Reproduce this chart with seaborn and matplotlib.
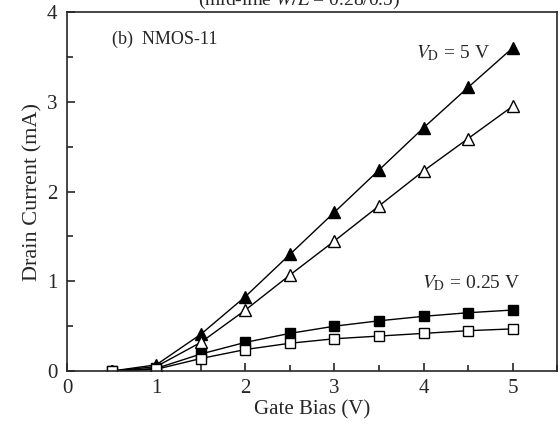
import matplotlib
matplotlib.use("Agg")
import matplotlib.pyplot as plt
import seaborn as sns
import pandas as pd
from matplotlib.ticker import MultipleLocator

gate_bias = [0.5, 1.0, 1.5, 2.0, 2.5, 3.0, 3.5, 4.0, 4.5, 5.0]
vd5_filled = [0.0, 0.07, 0.41, 0.83, 1.30, 1.77, 2.24, 2.71, 3.16, 3.60]
vd5_open = [0.0, 0.05, 0.32, 0.68, 1.07, 1.45, 1.84, 2.23, 2.59, 2.95]
vd025_filled = [0.0, 0.03, 0.19, 0.32, 0.42, 0.50, 0.56, 0.61, 0.65, 0.68]
vd025_open = [0.0, 0.02, 0.14, 0.24, 0.31, 0.36, 0.39, 0.42, 0.45, 0.47]

sns.set_style("ticks")
plt.rcParams["font.family"] = ["Liberation Serif", "DejaVu Serif"]
plt.rcParams["mathtext.fontset"] = "stix"

fig = plt.figure(figsize=(5.6, 4.28), dpi=100)
ax = fig.add_axes([0.12, 0.133, 0.875, 0.839])

series = [
    (vd5_filled, "^", "black"),
    (vd5_open, "^", "white"),
    (vd025_filled, "s", "black"),
    (vd025_open, "s", "white"),
]
for vals, mk, face in series:
    df = pd.DataFrame({"x": gate_bias, "y": vals})
    sns.lineplot(data=df, x="x", y="y", ax=ax, color="black", linewidth=1.0,
                 marker=mk, markersize=8.5 if mk == "^" else 6.5,
                 markerfacecolor=face, markeredgecolor="black",
                 markeredgewidth=1.0)

ax.set_xlim(0, 5.5)
ax.set_ylim(0, 4)
ax.xaxis.set_major_locator(MultipleLocator(1))
ax.xaxis.set_minor_locator(MultipleLocator(0.5))
ax.yaxis.set_major_locator(MultipleLocator(1))
ax.yaxis.set_minor_locator(MultipleLocator(0.5))
ax.tick_params(which="both", direction="in", top=False, right=False,
               labelsize=15, width=1.2)
ax.tick_params(which="major", length=6)
ax.tick_params(which="minor", length=4)
ax.tick_params(axis="x", pad=6)
ax.tick_params(axis="y", pad=7)
for s in ax.spines.values():
    s.set_linewidth(1.2)

ax.set_xlabel("Gate Bias (V)", fontsize=15, labelpad=1)
ax.set_ylabel("Drain Current (mA)", fontsize=16, labelpad=3)

ax.text(0.5, 3.69, "(b)  NMOS-11", fontsize=13, va="center")
ax.text(4.75, 3.54, r"$V_{\rm D}$ = 5 V", fontsize=14, va="center", ha="right")
ax.text(5.08, 0.98, r"$V_{\rm D}$ = 0.25 V", fontsize=14, va="center", ha="right")

fig.text(0.535, 1.0, r"(mid-line $W/L$ = 0.28/0.5)", fontsize=14,
         ha="center", va="center")

fig.savefig("out.png", dpi=100)
